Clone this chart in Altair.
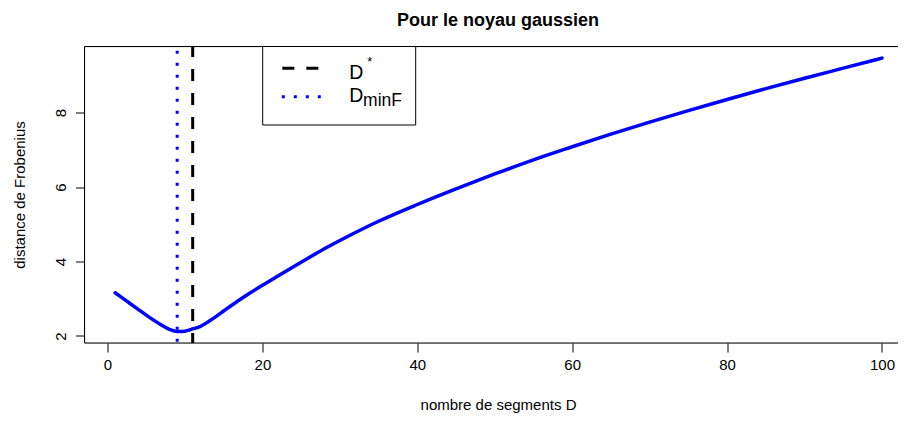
import altair as alt
import pandas as pd

# ---------------- data ----------------
D = [1, 2, 3, 4, 5, 6, 7, 8, 9, 10, 11, 12, 13, 14, 15, 16, 18, 20, 22, 25,
     28, 31, 35, 40, 45, 50, 55, 60, 65, 70, 75, 80, 85, 90, 95, 100]
dist = [3.16, 3.01, 2.86, 2.71, 2.56, 2.42, 2.29, 2.18, 2.12, 2.13, 2.19, 2.26,
        2.38, 2.52, 2.67, 2.82, 3.10, 3.36, 3.61, 3.98, 4.34, 4.67, 5.08, 5.53,
        5.95, 6.35, 6.73, 7.08, 7.42, 7.74, 8.05, 8.35, 8.64, 8.92, 9.19, 9.46]
x_ticks = [0, 20, 40, 60, 80, 100]
y_ticks = [2, 4, 6, 8]
d_star = [11]
d_minF = [9]
title_text = "Pour le noyau gaussien"
x_label = "nombre de segments D"
y_label = "distance de Frobenius"

FONT = "Liberation Sans"
W = 813.5
H = 296.5

curve_df = pd.DataFrame({"D": D, "dist": dist})
star_df = pd.DataFrame({"D": d_star})
minf_df = pd.DataFrame({"D": d_minF})
one = alt.Data(values=[{"k": 0}])

xscale = alt.Scale(domain=[-2.97, 102.07], nice=False, zero=False)
yscale = alt.Scale(domain=[1.812, 9.772], nice=False, zero=False)

xaxis = alt.Axis(values=x_ticks, title=x_label, grid=False, domain=False,
                 tickColor="black", tickSize=9, tickWidth=1,
                 labelFont=FONT, labelFontSize=15, labelColor="black",
                 labelBaseline="alphabetic", labelPadding=17, labelFlush=False,
                 labelAngle=0,
                 titleFont=FONT, titleFontSize=15, titleFontWeight="normal",
                 titleColor="black", titleBaseline="alphabetic",
                 titleAlign="center", titleX=413.5, titleY=66)
yaxis = alt.Axis(values=y_ticks, title=y_label, grid=False, domain=False,
                 tickColor="black", tickSize=9, tickWidth=1,
                 labelFont=FONT, labelFontSize=15, labelColor="black",
                 labelAngle=270, labelAlign="center", labelBaseline="alphabetic",
                 labelPadding=10.5, labelFlush=False,
                 titleFont=FONT, titleFontSize=15, titleFontWeight="normal",
                 titleColor="black", titleAngle=270, titleAlign="center",
                 titleBaseline="alphabetic", titleX=-60.5, titleY=148)

line = alt.Chart(curve_df).mark_line(
    color="blue", strokeWidth=3.5, interpolate="monotone", strokeCap="round"
).encode(
    x=alt.X("D:Q", scale=xscale, axis=xaxis),
    y=alt.Y("dist:Q", scale=yscale, axis=yaxis),
)

rule_star = alt.Chart(star_df).mark_rule(
    color="black", strokeWidth=3, strokeDash=[12, 12], strokeDashOffset=1.5
).encode(x="D:Q")

rule_minf = alt.Chart(minf_df).mark_rule(
    color="blue", strokeWidth=3, strokeDash=[3, 9], strokeDashOffset=7.7
).encode(x="D:Q")

# plot box (left, top, bottom)
b_top = alt.Chart(one).mark_rule(color="black", strokeWidth=1).encode(
    x=alt.value(0), x2=alt.value(W), y=alt.value(0))
b_bot = alt.Chart(one).mark_rule(color="black", strokeWidth=1).encode(
    x=alt.value(0), x2=alt.value(W), y=alt.value(H))
b_left = alt.Chart(one).mark_rule(color="black", strokeWidth=1).encode(
    x=alt.value(0), y=alt.value(0), y2=alt.value(H))

# title
t_title = alt.Chart(one).mark_text(text=title_text, font=FONT, fontSize=18,
                                   fontWeight="bold", align="center",
                                   baseline="alphabetic", color="black").encode(
    x=alt.value(W / 2 + 6.75), y=alt.value(-21))

# legend
leg_box = alt.Chart(one).mark_rect(fill="white", stroke="black", strokeWidth=1).encode(
    x=alt.value(178.2), x2=alt.value(331.2), y=alt.value(0), y2=alt.value(78.5))
leg_dash = alt.Chart(one).mark_rule(color="black", strokeWidth=3, strokeDash=[12, 12]).encode(
    x=alt.value(197.8), x2=alt.value(234.5), y=alt.value(21.8))
leg_dot = alt.Chart(one).mark_rule(color="blue", strokeWidth=3, strokeDash=[3, 9]).encode(
    x=alt.value(197.3), x2=alt.value(236.3), y=alt.value(50.2))
t_d1 = alt.Chart(one).mark_text(text="D", font=FONT, fontSize=19.5, align="left",
                                baseline="alphabetic", color="black").encode(
    x=alt.value(264.8), y=alt.value(32.5))
t_star = alt.Chart(one).mark_text(text="*", font=FONT, fontSize=13, align="left",
                                  baseline="alphabetic", color="black").encode(
    x=alt.value(282.8), y=alt.value(19.5))
t_d2 = alt.Chart(one).mark_text(text="D", font=FONT, fontSize=19.5, align="left",
                                baseline="alphabetic", color="black").encode(
    x=alt.value(264.8), y=alt.value(55.2))
t_sub = alt.Chart(one).mark_text(text="minF", font=FONT, fontSize=17.5, align="left",
                                 baseline="alphabetic", color="black").encode(
    x=alt.value(278.6), y=alt.value(59.2))

chart = alt.layer(
    line, rule_star, rule_minf, b_top, b_bot, b_left, t_title,
    leg_box, leg_dash, leg_dot, t_d1, t_star, t_d2, t_sub
).properties(
    width=W, height=H,
    padding={"left": 76.5, "top": 38.5, "right": 0, "bottom": 76},
    autosize=alt.AutoSizeParams(type="none"),
).configure_view(stroke=None).configure(background="white")

chart.save("out.html", embed_options={"renderer": "svg", "actions": False})
